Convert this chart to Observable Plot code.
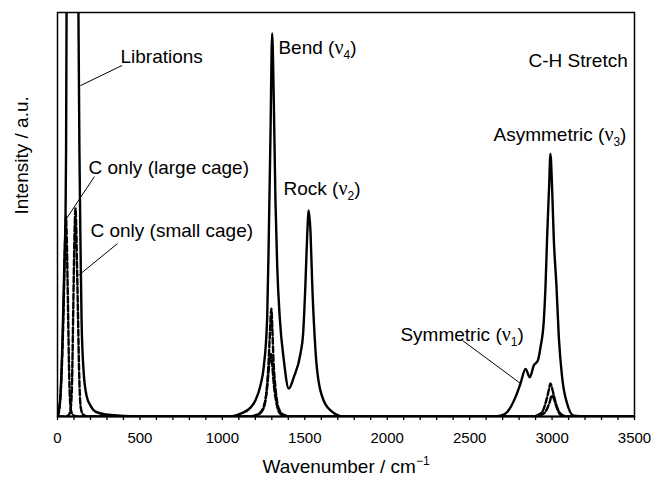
<!DOCTYPE html>
<html><head><meta charset="utf-8">
<script src="https://cdn.jsdelivr.net/npm/d3@7"></script>
<script src="https://cdn.jsdelivr.net/npm/@observablehq/plot@0.6"></script>
<style>body{margin:0;background:#fff;} #chart svg{display:block}</style>
</head><body><div id="chart"></div>
<script>
// Total spectrum (solid)
const totalW = [0,6,18,30,42,48.5,52,55,70,90,110,127,133,140,146,158,176,200,230,291,443,685,1050,1110,1171,1201,1231,1251,1272,1282,1292,1302,1312,1322,1333,1348,1373,1403,1433,1474,1490,1504,1515,1524,1535,1545,1565,1595,1656,1735,2650,2687,2728,2778,2808,2839,2865,2889,2914,2930,2950,2960,2970,2982,2990,3000,3010,3027,3041,3061,3092,3132,3200,3500];
const totalI = [0,1,5.2,18.8,38.6,49.3,65.8,100,150,170,150,100,65.8,41.1,23.8,11.4,5.2,2.7,1.2,0.5,0.1,0,0,0.7,2.2,4.0,7.7,12.2,24.6,45.3,70,94.8,78.2,53.5,36.9,24.6,13.9,6.9,9.7,15.6,20.5,32.9,45.3,51,45.3,32.9,16.3,6.4,1.5,0,0,0.2,1.1,4.8,8.1,11.8,9.7,12.6,13.9,17.2,23.8,32,44.4,56.8,65,56.8,44.4,32,19.6,9.7,3.1,0.2,0,0];
// C only (large cage) (dashed)
const largeW = [0,8,18,28,36,43,48,51,55,60,65,70,76,85,100,120,1150,1200,1230,1255,1270,1280,1290,1297,1303,1310,1320,1335,1355,1380,1420,2880,2920,2945,2965,2980,2990,3000,3012,3025,3045,3070,3100,3500];
const largeI = [0,1,5,14,25,38,47,49.5,46,36,24,12,4,1,0.2,0,0,0.3,1,3,7,13,22,26.7,22,14,8,3,1,0.3,0,0,0.5,1.5,4,6.5,8.2,7,5,3,1,0.2,0,0];
// C only (small cage) (dashed)
const smallW = [0,50,70,80,88,95,100,105,109,113,118,123,128,134,142,155,180,1180,1220,1250,1265,1278,1288,1295,1302,1312,1325,1345,1370,1400,2900,2940,2965,2985,2998,3010,3022,3040,3070,3500];
const smallI = [0,0,0.5,2,8,25,38,48,51.5,48,38,28,17,7,2,0.5,0,0,0.5,2,5,10,14.5,15.5,13,8,4,1,0.2,0,0,0.5,1.5,3.5,5.2,4.5,3,1,0,0];

const majorTicks = [0,500,1000,1500,2000,2500,3000,3500];
const minorTicks = [100,200,300,400,600,700,800,900,1100,1200,1300,1400,1600,1700,1800,1900,2100,2200,2300,2400,2600,2700,2800,2900,3100,3200,3300,3400];

const annLabels = ["Librations","C only (large cage)","C only (small cage)","Bend (ν_4)","Rock (ν_2)","C-H Stretch","Asymmetric (ν_3)","Symmetric (ν_1)"];
const annX = [382,188,200,1340,1371,2857,2645,2080];
const annY = [88.9,61.6,46,91.3,56.4,87.9,69.6,20.3];
const callX1 = [392,224,364,2457];
const callY1 = [86.9,59.4,42.8,18.8];
const callX2 = [139.5,55,127,2808];
const callY2 = [81.9,49,34.9,8.2];

const toRows = (W, I) => W.map((w, i) => ({w, v: I[i]}));
const annotations = annLabels.map((t, i) => ({t, x: annX[i], y: annY[i]}));
const callouts = callX1.map((x1, i) => ({x1, y1: callY1[i], x2: callX2[i], y2: callY2[i]}));

const chart = Plot.plot({
  width: 652, height: 485,
  marginLeft: 57, marginRight: 18, marginTop: 12, marginBottom: 69,
  style: {fontFamily: "'Liberation Sans', Arial, Helvetica, sans-serif", fontSize: "15px", background: "#fff", color: "#000"},
  x: {domain: [0, 3500]},
  y: {domain: [0, 100], axis: null},
  marks: [
    Plot.line(toRows(totalW, totalI), {x: "w", y: "v", curve: "monotone-x", stroke: "#000", strokeWidth: 2.4, clip: true}),
    Plot.line(toRows(largeW, largeI), {x: "w", y: "v", curve: "monotone-x", stroke: "#000", strokeWidth: 2.4, strokeDasharray: "6,2.5", clip: true}),
    Plot.line(toRows(smallW, smallI), {x: "w", y: "v", curve: "monotone-x", stroke: "#000", strokeWidth: 2.4, strokeDasharray: "6,2.5", clip: true}),
    Plot.link(callouts, {x1: "x1", y1: "y1", x2: "x2", y2: "y2", stroke: "#000", strokeWidth: 1}),
    Plot.text(annotations, {x: "x", y: "y", text: "t", textAnchor: "start", fontSize: 19, fill: "#000"}),
    Plot.frame({stroke: "#000", strokeWidth: 1.5}),
    Plot.ruleY([0], {stroke: "#000", strokeWidth: 2}),
    Plot.axisX({ticks: minorTicks, tickFormat: () => "", tickSize: 4, strokeWidth: 1.3}),
    Plot.axisX({ticks: majorTicks, tickFormat: "d", tickSize: 4, tickPadding: 12, fontSize: 15, strokeWidth: 1.3, label: null}),
    Plot.text(["Intensity / a.u."], {frameAnchor: "left", rotate: -90, dx: -36, fontSize: 19, fill: "#000"}),
    Plot.text(["Wavenumber / cm^−1"], {frameAnchor: "bottom", dy: 56, fontSize: 19, fill: "#000"})
  ]
});

function addSpan(el, txt, attrs) {
  const s = document.createElementNS("http://www.w3.org/2000/svg", "tspan");
  s.textContent = txt;
  if (attrs) for (const k in attrs) s.setAttribute(k, attrs[k]);
  el.appendChild(s);
}
chart.querySelectorAll("text").forEach(el => {
  const t = el.textContent;
  let m = t.match(/^(.*)ν_(\d)\)$/);
  if (m) {
    el.textContent = "";
    addSpan(el, m[1]);
    addSpan(el, "ν", {"font-family": "'Liberation Serif', 'Times New Roman', serif", "font-size": "20px"});
    addSpan(el, m[2], {"font-size": "12px", "dy": "5"});
    addSpan(el, ")", {"dy": "-5"});
    return;
  }
  m = t.match(/^(.*)\^(.+)$/);
  if (m) {
    el.textContent = "";
    addSpan(el, m[1]);
    addSpan(el, m[2], {"font-size": "12px", "dy": "-8"});
  }
});

document.getElementById("chart").appendChild(chart);
</script></body></html>
